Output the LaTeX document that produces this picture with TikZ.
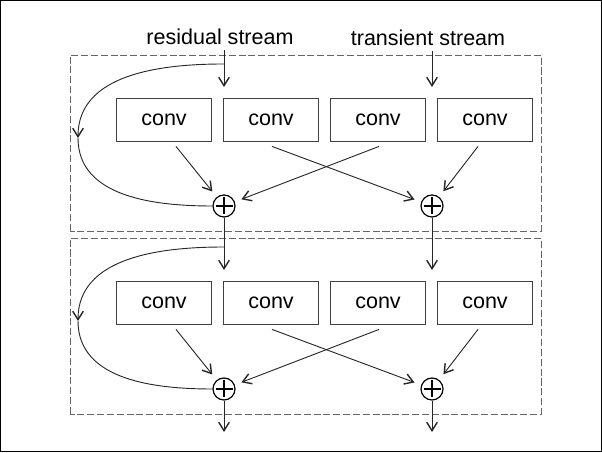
\documentclass[tikz,border=0pt]{standalone}
\usepackage{fontspec}
\setmainfont{Liberation Sans}
\usetikzlibrary{calc}
\usetikzlibrary{arrows.meta}

\begin{document}
\begin{tikzpicture}[x=0.025cm, y=0.025cm, font=\fontsize{15.3}{18}\selectfont]
        % ================= styles =================
        \tikzset{
            % conv box: white rectangle, thin dark border
            convbox/.style={rectangle, draw=black!75, line width=0.6pt, fill=white, minimum width=2.375cm, minimum height=1.075cm, inner sep=0pt},
            % sum node: circled plus
            sumnode/.style={circle, draw=black, line width=0.85pt, minimum size=0.55cm, inner sep=0pt,
                path picture={\draw[line width=0.75pt] (path picture bounding box.center) ++(0,8.5) -- ++(0,-17)
                    (path picture bounding box.center) ++(-8.5,0) -- ++(17,0);}},
            % arrow and plain line
            flow/.style={draw=black!85, line width=0.65pt, -{Straight Barb[length=6pt,width=7.5pt,line width=1pt]}},
            link/.style={draw=black!85, line width=0.65pt},
            % dashed block frame
            block/.style={draw=black!60, line width=0.6pt, dash pattern=on 5pt off 2pt}
        }

        \useasboundingbox (0,0) rectangle (602,452);
        \draw[line width=1pt] (0.7,0.7) rectangle (601.3,451.3);

        % ================= top block =================
        \begin{scope}
            \draw[block] (70,221) rectangle (541,397);

            % four conv boxes in a row
            \node[convbox] (c11) at (164,332.5) {conv};
            \node[convbox] (c12) at (271,332.5) {conv};
            \node[convbox] (c13) at (378,332.5) {conv};
            \node[convbox] (c14) at (485,332.5) {conv};

            % sums
            \node[sumnode] (s11) at (224,246) {};
            \node[sumnode] (s12) at (432,246) {};

            \coordinate (i11) at (224,365);
            \coordinate (i12) at (432,365);
            \coordinate (k1) at (224,388);
            \coordinate (m1) at (78,314);

            % stream labels
            \node (res) at (220,415) {residual stream};
            \node (tra) at (428,414) {transient stream};

            \draw[flow] (i11 |- res.south) -- (i11);
            \draw[flow] (i12 |- tra.south) -- (i12);

            % skip connection
            \draw[flow] (k1) to[out=180, in=90] (m1);
            \draw[link] (m1) to[out=-90, in=180] (s11);

            % conv outputs, crossing in the middle
            \draw[flow, shorten >=5pt] ($(c11.south)+(12,-5)$) -- (s11);
            \draw[flow, shorten >=5pt] ($(c12.south)+(1,-5)$) -- (s12);
            \draw[flow, shorten >=5pt] ($(c13.south)+(1,-5)$) -- (s11);
            \draw[flow, shorten >=5pt] ($(c14.south)+(-7,-5)$) -- (s12);
        \end{scope}

        % ================= bottom block =================
        \begin{scope}[shift={(0,-183)}]
            \draw[block] (70,221) rectangle (541,397);

            \node[convbox] (c21) at (164,332.5) {conv};
            \node[convbox] (c22) at (271,332.5) {conv};
            \node[convbox] (c23) at (378,332.5) {conv};
            \node[convbox] (c24) at (485,332.5) {conv};

            \node[sumnode] (s21) at (224,246) {};
            \node[sumnode] (s22) at (432,246) {};

            \coordinate (i21) at (224,365);
            \coordinate (i22) at (432,365);
            \coordinate (k2) at (224,388);
            \coordinate (m2) at (78,314);
            \coordinate (o21) at (224,203);
            \coordinate (o22) at (432,203);

            % inputs come from the sums above
            \draw[flow] (s11) -- (i21);
            \draw[flow] (s12) -- (i22);

            \draw[flow] (k2) to[out=180, in=90] (m2);
            \draw[link] (m2) to[out=-90, in=180] (s21);

            \draw[flow, shorten >=5pt] ($(c21.south)+(12,-5)$) -- (s21);
            \draw[flow, shorten >=5pt] ($(c22.south)+(1,-5)$) -- (s22);
            \draw[flow, shorten >=5pt] ($(c23.south)+(1,-5)$) -- (s21);
            \draw[flow, shorten >=5pt] ($(c24.south)+(-7,-5)$) -- (s22);

            % outputs
            \draw[flow] (s21) -- (o21);
            \draw[flow] (s22) -- (o22);
        \end{scope}

\end{tikzpicture}
\end{document}
